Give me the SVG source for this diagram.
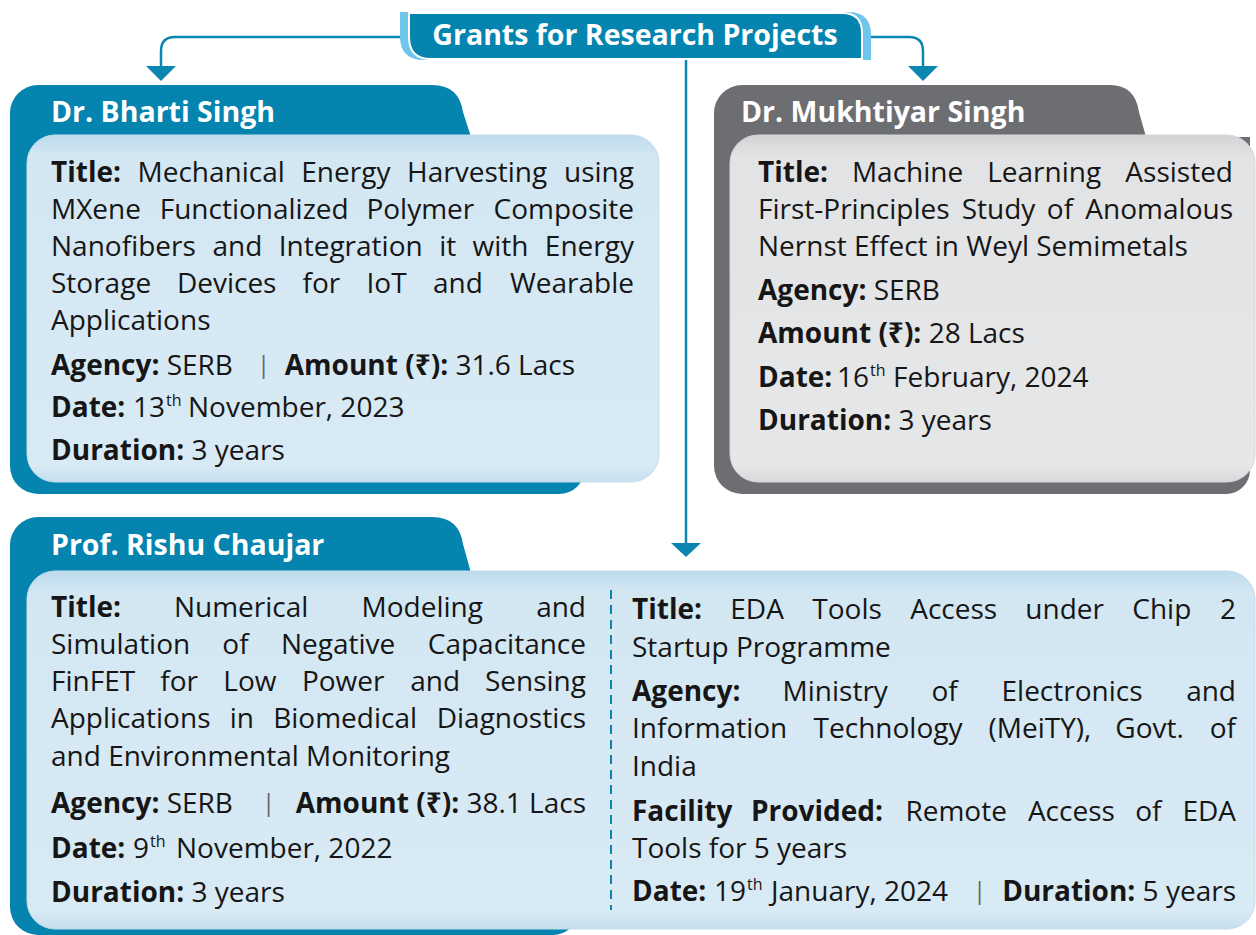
<svg xmlns="http://www.w3.org/2000/svg" width="1256" height="935" viewBox="0 0 1256 935">
<defs>
<style>
.tx{font-family:"Open Sans","Noto Sans","DejaVu Sans",sans-serif;font-size:28px;fill:#161616}
.b{font-weight:700}
.sup{font-size:16px}
.end{text-anchor:end}
.sep{font-family:"Open Sans","DejaVu Sans",sans-serif;font-size:24px;fill:#666}
.nm{font-family:"Open Sans","Noto Sans","DejaVu Sans",sans-serif;font-size:28.5px;font-weight:700;fill:#ffffff}
.conn{fill:none;stroke:#0a86b0;stroke-width:2.5}
.arr{fill:#0a86b0}
.teal{fill:#0484ae}
.gray{fill:#6d6e71}
.blue{fill:url(#gb);stroke:#c3ddec;stroke-width:1}
.lgray{fill:url(#gg);stroke:#d6d7d9;stroke-width:1}
</style>
<linearGradient id="gb" x1="0" y1="0" x2="0" y2="1">
<stop offset="0" stop-color="#bddbec"/>
<stop offset="0.06" stop-color="#d3e7f3"/>
<stop offset="0.95" stop-color="#d8eaf4"/>
<stop offset="1" stop-color="#c6dfee"/>
</linearGradient>
<linearGradient id="gg" x1="0" y1="0" x2="0" y2="1">
<stop offset="0" stop-color="#d2d3d5"/>
<stop offset="0.06" stop-color="#e2e3e4"/>
<stop offset="0.95" stop-color="#e6e7e8"/>
<stop offset="1" stop-color="#d8d9db"/>
</linearGradient>
</defs>

<g id="connectors">
<path class="conn" d="M402,37 L175,37 Q161,37 161,51 L161,68"/>
<polygon class="arr" points="146,66 176,66 161,81"/>
<path class="conn" d="M870,37 L909,37 Q923,37 923,51 L923,68"/>
<polygon class="arr" points="908,66 938,66 923,81"/>
<path class="conn" d="M686,58 L686,545"/>
<polygon class="arr" points="671,543 701,543 686,557"/>
</g>

<g id="header">
<path d="M400,12 L848,12 Q871,12 871,35 L871,60 L424,60 Q400,60 400,36 Z" fill="#6ec6ea"/>
<path d="M409,13 L842,13 Q862,13 862,33 L862,59 L431,59 Q409,59 409,37 Z" class="teal" stroke="#ffffff" stroke-width="2"/>
<text x="635" y="45" class="nm" text-anchor="middle">Grants for Research Projects</text>
</g>

<g id="card-bharti">
<path class="teal" d="M10,113 A28,28 0 0 1 38,85 L432,85 Q459,85 463,112 L471,137 L585,137 L585,468 A26,26 0 0 1 559,494 L38,494 A28,28 0 0 1 10,466 Z"/>
<text x="51" y="122" class="nm">Dr. Bharti Singh</text>
<rect x="27" y="135" width="632" height="347" rx="28" class="blue"/>
<text class="tx" y="182"><tspan x="51" class="b">Title:</tspan><tspan x="137.5">Mechanical</tspan><tspan x="301.3">Energy</tspan><tspan x="407.1">Harvesting</tspan></text>
<text class="tx end" x="634" y="182">using</text>
<text class="tx" y="219"><tspan x="51">MXene</tspan><tspan x="159.7">Functionalized</tspan><tspan x="366.4">Polymer</tspan></text>
<text class="tx end" x="634" y="219">Composite</text>
<text class="tx" y="256"><tspan x="51">Nanofibers</tspan><tspan x="212.5">and</tspan><tspan x="278.7">Integration</tspan><tspan x="439.3">it</tspan><tspan x="472.6">with</tspan></text>
<text class="tx end" x="634" y="256">Energy</text>
<text class="tx" y="293"><tspan x="51">Storage</tspan><tspan x="176.9">Devices</tspan><tspan x="302.6">for</tspan><tspan x="366.5">IoT</tspan><tspan x="433">and</tspan></text>
<text class="tx end" x="634" y="293">Wearable</text>
<text class="tx" x="51" y="330">Applications</text>
<text class="tx" x="51" y="375"><tspan class="b">Agency:</tspan> SERB</text>
<text class="sep" x="257" y="373">|</text>
<text class="tx end" x="575" y="375"><tspan class="b">Amount (₹):</tspan> 31.6 Lacs</text>
<text class="tx" y="417"><tspan x="51" class="b">Date:</tspan><tspan x="133">13</tspan><tspan x="166" y="406" class="sup">th</tspan><tspan x="188" y="417">November, 2023</tspan></text>
<text class="tx" x="51" y="460"><tspan class="b">Duration:</tspan> 3 years</text>
</g>

<g id="card-mukhtiyar">
<path class="gray" d="M714,113 A28,28 0 0 1 742,85 L1110,85 Q1135,85 1139,112 L1146,137 L1250,137 L1250,470 A24,24 0 0 1 1226,494 L742,494 A28,28 0 0 1 714,466 Z"/>
<text x="741" y="122" class="nm">Dr. Mukhtiyar Singh</text>
<rect x="730" y="135" width="525" height="347" rx="28" class="lgray"/>
<text class="tx" y="182"><tspan x="758" class="b">Title:</tspan><tspan x="851.9">Machine</tspan><tspan x="987.2">Learning</tspan></text>
<text class="tx end" x="1233" y="182">Assisted</text>
<text class="tx" y="219"><tspan x="758">First-Principles</tspan><tspan x="961.7">Study</tspan><tspan x="1046.8">of</tspan></text>
<text class="tx end" x="1233" y="219">Anomalous</text>
<text class="tx" x="758" y="256">Nernst Effect in Weyl Semimetals</text>
<text class="tx" x="758" y="300"><tspan class="b">Agency:</tspan> SERB</text>
<text class="tx" x="758" y="343"><tspan class="b">Amount (₹):</tspan> 28 Lacs</text>
<text class="tx" y="387"><tspan x="758" class="b">Date:</tspan><tspan x="837">16</tspan><tspan x="870" y="376" class="sup">th</tspan><tspan x="893" y="387">February, 2024</tspan></text>
<text class="tx" x="758" y="430"><tspan class="b">Duration:</tspan> 3 years</text>
</g>

<g id="card-rishu">
<path class="teal" d="M10,545 A28,28 0 0 1 38,517 L432,517 Q459,517 463,544 L471,573 L578,573 L578,910 A25,25 0 0 1 553,935 L38,935 A28,28 0 0 1 10,907 Z"/>
<text x="51" y="555" class="nm">Prof. Rishu Chaujar</text>
<rect x="27" y="571" width="1228" height="358" rx="28" class="blue"/>
<line x1="611" y1="590" x2="611" y2="910" stroke="#0a86b0" stroke-width="2" stroke-dasharray="9 6"/>
<text class="tx" y="617"><tspan x="51" class="b">Title:</tspan><tspan x="173.9">Numerical</tspan><tspan x="361.5">Modeling</tspan></text>
<text class="tx end" x="586" y="617">and</text>
<text class="tx" y="654"><tspan x="51">Simulation</tspan><tspan x="222.3">of</tspan><tspan x="281">Negative</tspan></text>
<text class="tx end" x="586" y="654">Capacitance</text>
<text class="tx" y="691"><tspan x="51">FinFET</tspan><tspan x="160.3">for</tspan><tspan x="223.3">Low</tspan><tspan x="301.9">Power</tspan><tspan x="410.2">and</tspan></text>
<text class="tx end" x="586" y="691">Sensing</text>
<text class="tx" y="728"><tspan x="51">Applications</tspan><tspan x="229.7">in</tspan><tspan x="273.2">Biomedical</tspan></text>
<text class="tx end" x="586" y="728">Diagnostics</text>
<text class="tx" x="51" y="766">and Environmental Monitoring</text>
<text class="tx" x="51" y="813"><tspan class="b">Agency:</tspan> SERB</text>
<text class="sep" x="262" y="811">|</text>
<text class="tx end" x="586" y="813"><tspan class="b">Amount (₹):</tspan> 38.1 Lacs</text>
<text class="tx" y="858"><tspan x="51" class="b">Date:</tspan><tspan x="133">9</tspan><tspan x="150" y="847" class="sup">th</tspan><tspan x="176" y="858">November, 2022</tspan></text>
<text class="tx" x="51" y="902"><tspan class="b">Duration:</tspan> 3 years</text>

<text class="tx" y="619"><tspan x="632" class="b">Title:</tspan><tspan x="730.3">EDA</tspan><tspan x="812.3">Tools</tspan><tspan x="910.2">Access</tspan><tspan x="1025.3">under</tspan><tspan x="1132.3">Chip</tspan></text>
<text class="tx end" x="1236" y="619">2</text>
<text class="tx" x="632" y="657">Startup Programme</text>
<text class="tx" y="701"><tspan x="632" class="b">Agency:</tspan><tspan x="782.6">Ministry</tspan><tspan x="931.5">of</tspan><tspan x="1001.5">Electronics</tspan></text>
<text class="tx end" x="1236" y="701">and</text>
<text class="tx" y="738"><tspan x="632">Information</tspan><tspan x="813.6">Technology</tspan><tspan x="988.5">(MeiTY),</tspan><tspan x="1115.3">Govt.</tspan></text>
<text class="tx end" x="1236" y="738">of</text>
<text class="tx" x="632" y="776">India</text>
<text class="tx" y="821"><tspan x="632" class="b">Facility</tspan><tspan x="750.9" class="b">Provided:</tspan><tspan x="905.4">Remote</tspan><tspan x="1027.9">Access</tspan><tspan x="1135.2">of</tspan></text>
<text class="tx end" x="1236" y="821">EDA</text>
<text class="tx" x="632" y="858">Tools for 5 years</text>
<text class="tx" y="901"><tspan x="632" class="b">Date:</tspan><tspan x="714">19</tspan><tspan x="747" y="890" class="sup">th</tspan><tspan x="771" y="901">January, 2024</tspan></text>
<text class="sep" x="973" y="899">|</text>
<text class="tx end" x="1236" y="901"><tspan class="b">Duration:</tspan> 5 years</text>
</g>
</svg>
